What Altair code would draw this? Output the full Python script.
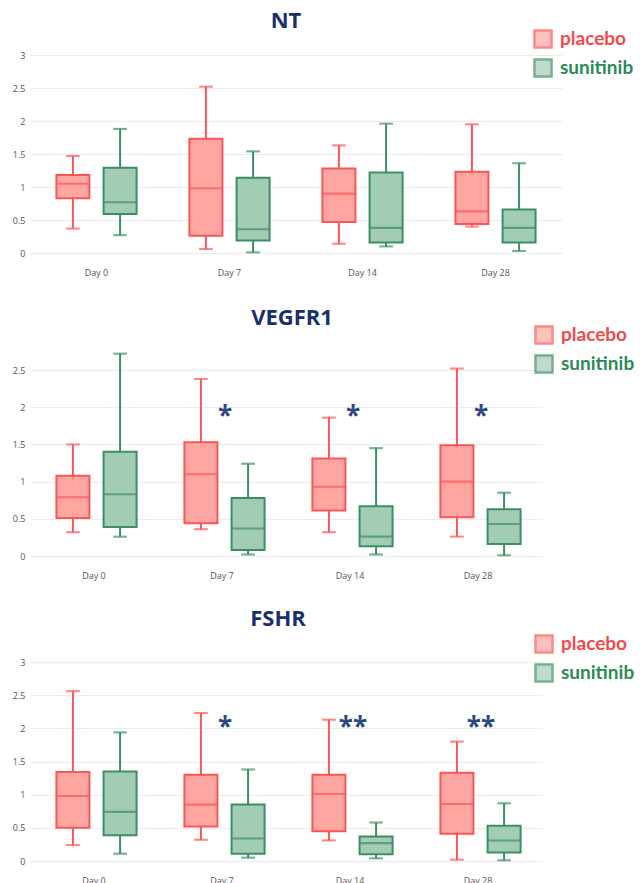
import altair as alt
import pandas as pd

days = ["Day 0", "Day 7", "Day 14", "Day 28"]
groups = ["placebo", "sunitinib"]

# stats per (day, group): min, q1, median, q3, max  (placebo then sunitinib per day)
nt_min = [0.37, 0.27, 0.06, 0.01, 0.14, 0.10, 0.40, 0.03]
nt_q1 = [0.83, 0.59, 0.26, 0.19, 0.47, 0.16, 0.44, 0.16]
nt_med = [1.05, 0.77, 0.98, 0.36, 0.90, 0.38, 0.63, 0.38]
nt_q3 = [1.18, 1.29, 1.73, 1.14, 1.28, 1.22, 1.23, 0.66]
nt_max = [1.47, 1.88, 2.52, 1.54, 1.63, 1.96, 1.95, 1.36]

vg_min = [0.32, 0.26, 0.36, 0.02, 0.32, 0.02, 0.26, 0.01]
vg_q1 = [0.51, 0.39, 0.44, 0.08, 0.61, 0.13, 0.52, 0.16]
vg_med = [0.79, 0.83, 1.10, 0.37, 0.93, 0.26, 1.00, 0.43]
vg_q3 = [1.08, 1.40, 1.53, 0.78, 1.31, 0.67, 1.49, 0.63]
vg_max = [1.50, 2.72, 2.38, 1.24, 1.86, 1.45, 2.52, 0.85]

fs_min = [0.24, 0.11, 0.32, 0.05, 0.31, 0.04, 0.02, 0.01]
fs_q1 = [0.50, 0.39, 0.52, 0.11, 0.45, 0.10, 0.41, 0.13]
fs_med = [0.98, 0.74, 0.85, 0.34, 1.01, 0.27, 0.86, 0.31]
fs_q3 = [1.34, 1.35, 1.30, 0.85, 1.30, 0.37, 1.33, 0.53]
fs_max = [2.56, 1.94, 2.23, 1.38, 2.13, 0.58, 1.80, 0.87]

vg_star_days = ["Day 7", "Day 14", "Day 28"]
vg_star_text = ["*", "*", "*"]
vg_star_y = [1.93, 1.93, 1.93]

fs_star_days = ["Day 7", "Day 14", "Day 28"]
fs_star_text = ["*", "**", "**"]
fs_star_y = [2.08, 2.08, 2.08]

FILL = ["#ffa6a3", "#a3ccb6"]
STROKE = ["#fb5656", "#3c8f63"]
TITLE_C = "#172f6e"
STAR_C = "#2a4a7c"
FONT = "Open Sans"


def frame(mn, q1, md, q3, mx):
    rows = []
    i = 0
    for d in days:
        for g in groups:
            rows.append(dict(day=d, group=g, mn=mn[i], q1=q1[i], md=md[i], q3=q3[i], mx=mx[i]))
            i += 1
    return pd.DataFrame(rows)


def panel(title, df, width, height, ymax, ticks, leg_x, leg_y, title_dx, title_off, stars=None):
    yscale = alt.Scale(domain=[0, ymax], nice=False, zero=True)
    xaxis = alt.Axis(labelAngle=0, domain=False, ticks=False, labelPadding=15,
                     labelFontSize=9, labelColor="#555", labelFont=FONT, grid=False)
    xenc = alt.X("day:N", sort=days, title=None,
                 scale=alt.Scale(paddingInner=0, paddingOuter=0), axis=xaxis)
    xoff = alt.XOffset("group:N", sort=groups,
                       scale=alt.Scale(paddingInner=0.3, paddingOuter=0.56))
    stroke = alt.Stroke("group:N", sort=groups,
                        scale=alt.Scale(domain=groups, range=STROKE),
                        legend=alt.Legend(title=None, orient="none", legendX=leg_x, legendY=leg_y,
                                          symbolType="square", symbolSize=290, symbolStrokeWidth=2.5,
                                          labelFontSize=19, labelFont="Lato", labelFontWeight="bold",
                                          labelColor=alt.ExprRef("datum.label == 'placebo' ? '#f24a4c' : '#2b8a56'"),
                                          rowPadding=1, labelOffset=7))
    fill = alt.Fill("group:N", sort=groups, scale=alt.Scale(domain=groups, range=FILL), legend=None)
    yaxis = alt.Axis(values=ticks, tickCount=len(ticks), format="~g", domain=False, ticks=False,
                     labelFontSize=9, labelColor="#555", labelFont=FONT, labelPadding=5,
                     gridColor="#ececec", labelOverlap=False, title=None)

    def Y(f):
        return alt.Y(f, scale=yscale, axis=yaxis)

    base = alt.Chart(df)
    whisk = base.mark_rule(strokeWidth=2).encode(
        x=xenc, xOffset=xoff, y=Y("mn:Q"), y2="mx:Q", stroke=stroke)
    caps_lo = base.mark_tick(size=12, thickness=0.4, strokeWidth=1.7, filled=False,
                             orient="horizontal").encode(
        x=xenc, xOffset=xoff, y=Y("mn:Q"), stroke=stroke)
    caps_hi = base.mark_tick(size=12, thickness=0.4, strokeWidth=1.7, filled=False,
                             orient="horizontal").encode(
        x=xenc, xOffset=xoff, y=Y("mx:Q"), stroke=stroke)
    box = base.mark_bar(strokeWidth=2).encode(
        x=xenc, xOffset=xoff, y=Y("q1:Q"), y2="q3:Q", fill=fill, stroke=stroke)
    med = base.mark_tick(size=31, thickness=0.4, strokeWidth=1.7, filled=False,
                         orient="horizontal").encode(
        x=xenc, xOffset=xoff, y=Y("md:Q"), stroke=stroke)
    layers = [whisk, caps_lo, caps_hi, box, med]
    if stars is not None:
        sdf = pd.DataFrame(dict(day=stars[0], lab=stars[1], y=stars[2]))
        st = alt.Chart(sdf).mark_text(fontSize=26, fontWeight="bold", color=STAR_C, font=FONT,
                                      baseline="middle", dx=3, dy=5).encode(
            x=alt.X("day:N", sort=days, axis=xaxis, title=None), y=Y("y:Q"), text="lab:N")
        layers.append(st)
    return alt.layer(*layers).properties(
        width=width, height=height,
        title=alt.TitleParams(title, fontSize=22, fontWeight="bold", color=TITLE_C, font=FONT,
                              anchor="middle", dx=title_dx, offset=title_off))


p1 = panel("NT", frame(nt_min, nt_q1, nt_med, nt_q3, nt_max), 532, 198, 3.0,
           [0, 0.5, 1, 1.5, 2, 2.5, 3], 503, -26, -10, -4)
p2 = panel("VEGFR1", frame(vg_min, vg_q1, vg_med, vg_q3, vg_max), 512, 212, 2.85,
           [0, 0.5, 1, 1.5, 2, 2.5], 504, -19, 6, -5, (vg_star_days, vg_star_text, vg_star_y))
p3 = panel("FSHR", frame(fs_min, fs_q1, fs_med, fs_q3, fs_max), 512, 199, 3.0,
           [0, 0.5, 1, 1.5, 2, 2.5, 3], 504, -28, -8, 3, (fs_star_days, fs_star_text, fs_star_y))

top = alt.vconcat(p1, p2, spacing=30).resolve_scale(
    stroke="independent", fill="independent")
chart = alt.vconcat(top, p3, spacing=28).resolve_scale(
    stroke="independent", fill="independent"
).properties(
    padding={"left": 4, "top": 2, "right": 0, "bottom": 0}, background="white"
).configure_view(stroke=None, strokeWidth=0)

chart.save("out.html", embed_options={"renderer": "svg", "actions": False})
